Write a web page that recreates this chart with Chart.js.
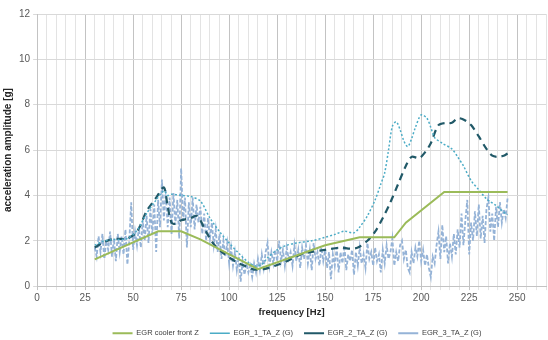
<!DOCTYPE html>
<html>
<head>
<meta charset="utf-8">
<script src="https://cdn.jsdelivr.net/npm/chart.js@4/dist/chart.umd.min.js"></script>
<style>
html,body{margin:0;padding:0;background:#fff;}
#wrap{width:548px;height:340px;position:relative;}
</style>
</head>
<body>
<div id="wrap"><canvas id="c" width="548" height="340"></canvas></div>
<script>
// ---- data ----
const seriesNames = ["EGR cooler front Z", "EGR_1_TA_Z (G)", "EGR_2_TA_Z (G)", "EGR_3_TA_Z (G)"];

const freqCooler = [30, 63, 75, 85, 115, 150, 168, 186, 192, 212, 245];
const valCooler  = [1.18, 2.42, 2.42, 2.06, 0.75, 1.8, 2.15, 2.15, 2.8, 4.15, 4.15];

const freq1 = [30, 35, 40, 47, 52, 57, 62, 66, 68, 70, 75, 80, 85, 90, 95, 100, 105, 110, 114, 117, 120, 125, 130, 135, 143, 150, 155, 160, 165, 168, 172, 176, 179, 181, 183, 185, 187, 189, 191, 193, 195, 197, 200, 203, 205, 207, 211, 216, 219, 222, 226, 230, 234, 239, 244, 245];
const val1  = [1.8, 2.0, 2.05, 2.1, 2.45, 3.2, 3.8, 4.2, 4.0, 4.05, 4.0, 3.95, 3.75, 3.0, 2.4, 1.9, 1.45, 1.05, 0.88, 0.95, 1.25, 1.6, 1.8, 1.9, 2.0, 2.15, 2.28, 2.42, 2.35, 2.6, 3.1, 3.8, 4.5, 5.0, 6.0, 7.05, 7.25, 6.9, 6.4, 6.15, 6.5, 7.0, 7.55, 7.4, 7.0, 6.55, 6.3, 6.05, 5.7, 5.3, 4.65, 4.25, 3.85, 3.55, 3.2, 3.15];

const freq2 = [30, 35, 40, 47, 52, 57, 62, 66, 68, 70, 72, 75, 80, 83, 85, 88, 92, 97, 103, 108, 113, 118, 124, 130, 136, 142, 150, 158, 163, 167, 172, 176, 180, 184, 188, 192, 195, 199, 202, 205, 209, 213, 216, 219, 222, 226, 230, 234, 237, 240, 243, 245];
const val2  = [1.7, 1.95, 2.08, 2.1, 2.4, 3.3, 3.9, 4.35, 3.5, 2.8, 2.75, 2.9, 3.0, 3.1, 2.9, 2.4, 1.85, 1.45, 1.1, 0.9, 0.73, 0.75, 0.9, 1.1, 1.35, 1.5, 1.6, 1.7, 1.65, 1.7, 2.0, 2.4, 3.0, 3.7, 4.5, 5.3, 5.7, 5.65, 5.9, 6.3, 7.1, 7.2, 7.2, 7.4, 7.35, 7.1, 6.6, 6.05, 5.75, 5.7, 5.75, 5.85];

// EGR_3 sampled every 1 Hz from 30 Hz to 245 Hz
const freq3Start = 30;
const val3 = [
 1.7, 1.3, 2.2, 1.5, 2.3, 1.2, 2.0, 1.6, 2.4, 1.3, 2.1,
 1.1, 2.3, 1.5, 2.2, 1.4, 2.5, 0.95, 2.0, 3.7, 1.6,
 2.4, 1.8, 2.6, 1.7, 2.9, 2.0, 3.1, 1.9, 3.4, 2.3,
 3.6, 1.5, 3.8, 2.6, 4.7, 2.9, 4.2, 2.6, 3.9, 2.3,
 4.1, 2.7, 3.8, 2.1, 5.2, 2.9, 3.9, 1.7, 3.7, 2.6,
 3.9, 2.5, 3.6, 2.8, 3.5, 2.3, 3.2, 2.0, 3.0, 2.1,
 2.8, 1.8, 2.5, 1.5, 2.3, 1.2, 2.0, 1.3, 1.9, 1.0,
 1.7, 0.9, 1.5, 0.7, 1.3, 0.2, 1.1, 0.5, 1.0, 0.6,
 0.9, 0.4, 1.0, 0.6, 1.2, 0.7, 1.4, 0.8, 1.5, 1.9,
 0.9, 1.5, 1.0, 1.6, 1.1, 2.0, 1.1, 1.6, 0.9, 1.7,
 1.2, 1.5, 0.9, 1.8, 1.1, 1.6, 0.8, 1.7, 1.2, 1.8,
 1.0, 1.6, 0.7, 1.9, 1.2, 1.5, 0.9, 1.7, 1.1, 1.6,
 0.8, 1.5, 0.3, 1.4, 0.9, 1.7, 0.6, 1.5, 1.0, 1.8,
 0.7, 1.4, 1.1, 1.6, 0.5, 1.5, 0.9, 1.7, 1.0, 1.4,
 0.8, 1.9, 1.2, 1.5, 0.9, 1.7, 1.1, 1.4, 0.6, 1.6,
 1.0, 1.8, 1.2, 1.5, 2.1, 0.9, 1.5, 1.1, 1.8, 2.0,
 1.2, 1.6, 0.8, 0.6, 1.5, 1.0, 1.7, 1.3, 2.0, 1.1,
 1.6, 0.9, 1.4, 0.8, 0.4, 1.3, 1.0, 1.8, 2.4, 1.2,
 2.7, 1.5, 2.2, 1.0, 1.9, 1.3, 2.3, 1.4, 2.5, 1.7,
 3.2, 1.8, 2.9, 3.8, 1.4, 2.8, 2.0, 3.3, 2.2, 3.6,
 2.1, 3.1, 1.9, 3.4, 3.9, 2.4, 3.2, 2.0, 3.5, 2.6,
 3.7, 2.8, 3.4, 3.0, 3.9
];

const xTickLabels = ["0", "25", "50", "75", "100", "125", "150", "175", "200", "225", "250"];
const yTickLabels = ["0", "2", "4", "6", "8", "10", "12"];

// ---- build ----
function pairs(xs, ys) { return ys.map((v, i) => ({ x: xs[i], y: v })); }
const freq3 = val3.map((_, i) => freq3Start + i);

// centre the legend under the plot area rather than the whole canvas
const legendShift = {
  id: 'legendShift',
  afterLayout(chart) {
    const lg = chart.legend;
    if (lg) { lg.left += 46; }
  }
};

const ctx = document.getElementById('c').getContext('2d');
new Chart(ctx, {
  type: 'line',
  data: {
    datasets: [
      { label: seriesNames[0], data: pairs(freqCooler, valCooler), borderColor: '#9BBB59', borderWidth: 2, pointRadius: 0, tension: 0 },
      { label: seriesNames[1], data: pairs(freq1, val1), borderColor: '#4BACC6', borderWidth: 1.5, borderDash: [2, 2], pointRadius: 0, tension: 0.3 },
      { label: seriesNames[2], data: pairs(freq2, val2), borderColor: '#215968', borderWidth: 2.2, borderDash: [7, 5], pointRadius: 0, tension: 0.3 },
      { label: seriesNames[3], data: pairs(freq3, val3), borderColor: '#95B3D7', borderWidth: 1.8, borderDash: [4, 2], pointRadius: 0, tension: 0 }
    ]
  },
  plugins: [legendShift],
  options: {
    responsive: false,
    animation: false,
    layout: { padding: { left: 2, right: 2, top: 14, bottom: -7 } },
    scales: {
      x: {
        type: 'linear', min: 0, max: 265,
        ticks: {
          stepSize: 5, autoSkip: false, maxRotation: 0, color: '#595959', padding: 2,
          font: { family: 'Liberation Sans', size: 10 },
          callback: (v) => (v % 25 === 0 && xTickLabels.includes(String(v))) ? String(v) : ''
        },
        grid: {
          color: (c) => (c.tick && c.tick.value % 25 === 0) ? '#c3c3c3' : '#e3e3e3',
          drawTicks: true, tickLength: 4
        },
        border: { color: '#c3c3c3' },
        title: { display: true, text: 'frequency [Hz]', color: '#262626', font: { family: 'Liberation Sans', size: 9.5, weight: 'bold' }, padding: { top: 1, bottom: 0 } }
      },
      y: {
        min: 0, max: 12,
        ticks: {
          stepSize: 2, color: '#595959',
          font: { family: 'Liberation Sans', size: 10 },
          callback: (v) => yTickLabels.includes(String(v)) ? String(v) : ''
        },
        grid: { color: '#d9d9d9', tickLength: 4 },
        border: { color: '#c3c3c3' },
        title: { display: true, text: 'acceleration amplitude [g]', color: '#262626', font: { family: 'Liberation Sans', size: 10, weight: 'bold' }, padding: { top: 0, bottom: 2 } }
      }
    },
    plugins: {
      legend: {
        position: 'bottom',
        labels: {
          usePointStyle: true, pointStyle: 'line', pointStyleWidth: 20, boxWidth: 20, boxHeight: 6,
          color: '#404040', padding: 11,
          font: { family: 'Liberation Sans', size: 7.5 }
        }
      },
      tooltip: { enabled: false }
    }
  }
});
</script>
</body>
</html>
